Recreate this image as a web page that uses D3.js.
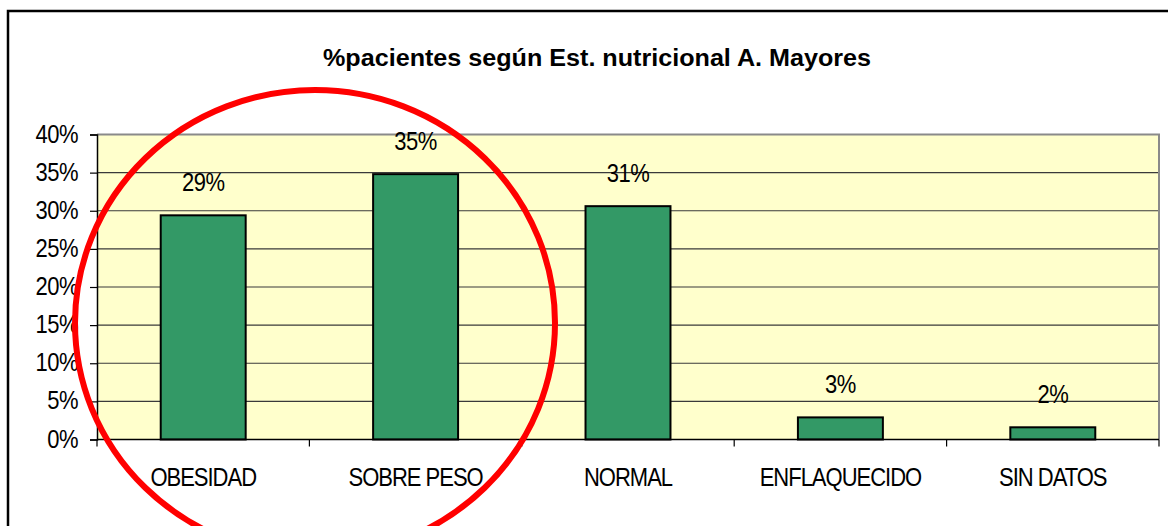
<!DOCTYPE html>
<html>
<head>
<meta charset="utf-8">
<script src="https://cdn.jsdelivr.net/npm/d3@7"></script>
<style>
  html, body { margin: 0; padding: 0; background: #fff; }
  svg { display: block; }
  text { font-family: "Liberation Sans", Arial, sans-serif; fill: #000; }
</style>
</head>
<body>
<svg id="chart" width="1168" height="526"></svg>
<script>
const title = "%pacientes según Est. nutricional A. Mayores";
const categories = ["OBESIDAD", "SOBRE PESO", "NORMAL", "ENFLAQUECIDO", "SIN DATOS"];
const values = [0.294, 0.348, 0.306, 0.029, 0.016];
const valueLabels = ["29%", "35%", "31%", "3%", "2%"];
const yTicks = [0, 0.05, 0.10, 0.15, 0.20, 0.25, 0.30, 0.35, 0.40];

const svg = d3.select("#chart");
const plot = { left: 97, right: 1159, top: 134.5, bottom: 439.5 };
const SY = 1.15; // vertical stretch of text, as in the reference rendering

// outer chart border
svg.append("rect")
  .attr("x", 8).attr("y", 11).attr("width", 1180).attr("height", 540)
  .attr("fill", "#fff").attr("stroke", "#000").attr("stroke-width", 2.5);

const x = d3.scaleBand().domain(categories).range([plot.left, plot.right]).paddingInner(0.6).paddingOuter(0.3);
const xOuter = d3.scaleBand().domain(categories).range([plot.left, plot.right]);
const y = d3.scaleLinear().domain([0, 0.40]).range([plot.bottom, plot.top]);

// plot background
svg.append("rect")
  .attr("x", plot.left).attr("y", plot.top)
  .attr("width", plot.right - plot.left).attr("height", plot.bottom - plot.top)
  .attr("fill", "#FFFFCC");

// gridlines
svg.append("g").selectAll("line")
  .data(yTicks.filter(d => d > 0 && d < 0.40))
  .join("line")
  .attr("x1", plot.left).attr("x2", plot.right)
  .attr("y1", d => y(d)).attr("y2", d => y(d))
  .attr("stroke", "#3a3a3a").attr("stroke-width", 1.2);

// plot border top/right (gray)
svg.append("path")
  .attr("d", `M${plot.left},${plot.top}H${plot.right}V${plot.bottom}`)
  .attr("fill", "none").attr("stroke", "#8a8a8a").attr("stroke-width", 2);

// bars
svg.append("g").selectAll("rect")
  .data(values)
  .join("rect")
  .attr("x", (d, i) => x(categories[i]))
  .attr("width", x.bandwidth())
  .attr("y", d => y(d))
  .attr("height", d => y(0) - y(d))
  .attr("fill", "#339966")
  .attr("stroke", "#000").attr("stroke-width", 2);

// value labels
svg.append("g").selectAll("text")
  .data(values)
  .join("text")
  .attr("transform", (d, i) => `translate(${x(categories[i]) + x.bandwidth() / 2},${y(d) - 24}) scale(1,${SY})`)
  .attr("text-anchor", "middle")
  .attr("font-size", 22)
  .attr("letter-spacing", -0.5)
  .text((d, i) => valueLabels[i]);

// y axis
const yAxis = d3.axisLeft(y).tickValues(yTicks).tickFormat(d3.format(".0%")).tickSize(7).tickPadding(12);
const gy = svg.append("g").attr("transform", `translate(${plot.left},0)`).call(yAxis);
gy.select(".domain").attr("stroke", "#000").attr("stroke-width", 1.5);
gy.selectAll(".tick line").attr("stroke", "#000").attr("stroke-width", 1.2);
gy.selectAll(".tick text").attr("font-size", 22).attr("letter-spacing", -0.5)
  .attr("dy", "0.3em")
  .attr("transform", `scale(1,${SY})`)
  .attr("font-family", "Liberation Sans, Arial, sans-serif").attr("fill", "#000");

// x axis
const gx = svg.append("g").attr("transform", `translate(0,${plot.bottom})`);
gx.append("line").attr("x1", plot.left).attr("x2", plot.right).attr("y1", 0).attr("y2", 0)
  .attr("stroke", "#000").attr("stroke-width", 1.5);
const boundaries = categories.map(c => xOuter(c)).concat([plot.right]);
gx.selectAll("line.tk").data(boundaries).join("line").attr("class", "tk")
  .attr("x1", d => d).attr("x2", d => d).attr("y1", 0).attr("y2", 7)
  .attr("stroke", "#000").attr("stroke-width", 1.2);
gx.selectAll("text").data(categories).join("text")
  .attr("transform", d => `translate(${xOuter(d) + xOuter.bandwidth() / 2},46) scale(1,${SY})`)
  .attr("text-anchor", "middle")
  .attr("font-size", 22)
  .attr("letter-spacing", -1)
  .text(d => d);

// title
svg.append("text")
  .attr("transform", `translate(597,66) scale(1,1.06)`)
  .attr("text-anchor", "middle")
  .attr("font-size", 23)
  .attr("font-weight", "bold")
  .attr("textLength", 548)
  .attr("lengthAdjust", "spacingAndGlyphs")
  .text(title);

// red highlight ellipse
svg.append("ellipse")
  .attr("cx", 315).attr("cy", 323).attr("rx", 240).attr("ry", 233)
  .attr("fill", "none").attr("stroke", "#FF0000").attr("stroke-width", 6);
</script>
</body>
</html>
